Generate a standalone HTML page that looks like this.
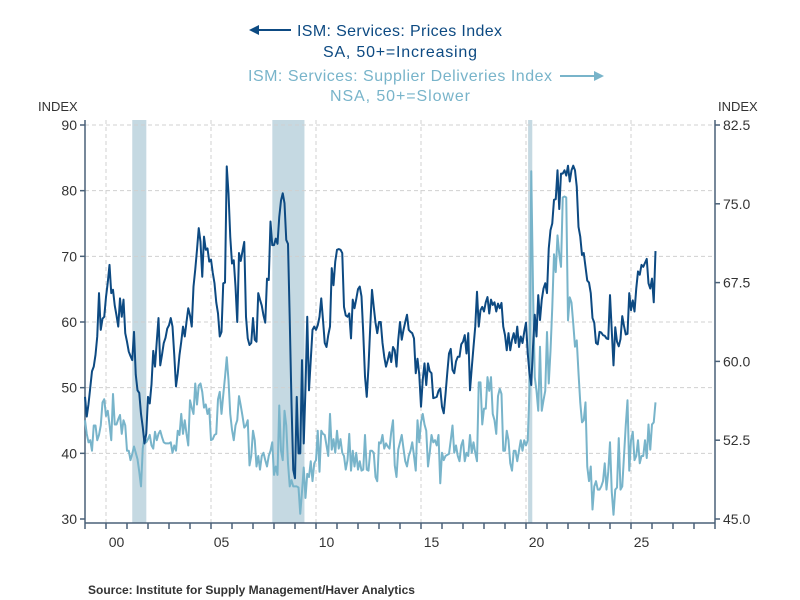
<!DOCTYPE html>
<html><head><meta charset="utf-8"><style>
html,body{margin:0;padding:0;background:#fff;}
svg{display:block;font-family:"Liberation Sans",sans-serif;}
</style></head><body>
<svg id="chart" width="800" height="600" viewBox="0 0 800 600">
<g id="titles">
  <g>
    <line x1="256" y1="30" x2="291" y2="30" stroke="#0d4a82" stroke-width="2"/>
    <polygon points="249,30 259,25 259,35" fill="#0d4a82"/>
    <text x="297" y="36" font-size="16" fill="#0d4a82" textLength="205">ISM: Services: Prices Index</text>
    <text x="400" y="57" font-size="16" fill="#0d4a82" text-anchor="middle" textLength="154">SA, 50+=Increasing</text>
  </g>
  <g>
    <text x="248" y="81" font-size="16" fill="#78b4ca" textLength="304">ISM: Services: Supplier Deliveries Index</text>
    <text x="400" y="101" font-size="16" fill="#78b4ca" text-anchor="middle" textLength="140">NSA, 50+=Slower</text>
    <line x1="560" y1="76" x2="596" y2="76" stroke="#78b4ca" stroke-width="2"/>
    <polygon points="604,76 594,71 594,81" fill="#78b4ca"/>
  </g>
</g>
<text x="38" y="111" font-size="13" fill="#333">INDEX</text>
<text x="718" y="111" font-size="13" fill="#333">INDEX</text>
<g id="plot"></g>
<text x="88" y="594" font-size="12" font-weight="bold" fill="#333">Source:  Institute for Supply Management/Haver Analytics</text>
</svg>
<script>
const startYear = 1999;
const pricesByYear = [
[48.6,45.6,47.5,50.0,52.5,53.2,55.0,57.8,64.4,58.8,60.5,60.8],
[63.8,66.0,68.7,64.4,64.9,62.5,61.0,59.3,63.6,60.8,63.4,58.3],
[57.0,55.5,54.8,54.2,58.5,52.0,49.6,49.2,46.0,44.0,41.5,43.0],
[48.6,47.6,50.5,55.6,53.2,57.0,60.6,53.4,55.0,56.8,57.6,59.0],
[59.5,60.6,59.3,55.0,50.2,52.2,55.0,57.0,59.3,57.8,60.0,62.1],
[61.0,59.3,65.4,68.0,71.0,74.3,72.2,66.9,73.0,71.0,71.2,69.2],
[69.5,67.5,65.9,63.0,61.3,57.8,58.5,65.9,66.0,83.7,79.6,73.0],
[68.9,69.4,65.4,60.0,70.5,69.3,70.8,72.2,60.8,57.5,56.5,56.8],
[60.6,57.3,57.0,64.4,63.4,62.5,61.0,59.9,66.6,66.4,75.3,71.7],
[71.7,72.7,71.9,76.0,78.5,79.6,78.1,72.5,71.9,60.3,47.6,37.5],
[36.2,48.6,40.0,40.0,54.2,41.5,50.0,60.8,49.6,54.2,58.8,59.3],
[58.8,59.5,60.8,63.6,60.3,56.8,56.2,58.0,59.3,68.2,65.6,69.2],
[71.0,71.1,71.0,70.5,62.3,61.0,60.8,61.3,57.5,63.4,62.1,63.5],
[65.0,65.4,63.9,58.3,51.7,48.6,53.2,59.3,64.9,62.3,59.9,58.3],
[60.0,60.0,56.8,54.7,53.2,54.2,55.4,53.9,56.2,55.7,53.2,57.3],
[60.0,57.3,58.8,60.0,61.1,58.8,58.5,58.3,57.5,52.2,54.4,52.0],
[47.1,51.2,53.7,50.4,53.7,52.5,52.2,48.4,48.5,48.6,49.5,49.9],
[47.1,46.1,49.0,52.2,55.2,55.9,52.7,52.2,54.0,54.7,54.7,56.6],
[57.0,58.0,55.2,58.3,49.6,53.0,56.2,59.3,64.6,59.3,61.8,62.3],
[61.6,63.0,63.8,61.3,63.4,62.6,63.0,61.6,62.8,62.1,62.9,59.3],
[58.0,55.7,58.3,55.7,57.3,58.3,56.8,59.3,56.2,57.8,56.8,58.5],
[59.9,55.2,52.2,50.4,56.2,61.1,57.8,64.1,60.3,63.4,65.1,65.9],
[64.4,71.2,74.0,75.0,78.6,78.7,83.1,77.2,82.6,82.6,83.1,82.3],
[83.8,81.4,83.1,83.8,83.1,80.6,74.5,73.0,70.2,70.5,68.4,66.3],
[66.0,64.4,60.6,59.9,56.8,56.6,58.5,58.4,58.0,57.9,57.5,57.4],
[64.1,58.7,53.4,59.2,57.0,56.3,57.4,60.9,59.4,58.1,58.2,64.4],
[61.8,63.3,61.6,65.1,67.7,67.2,68.7,68.4,69.0,69.6,65.9,65.1],
[66.6,63.0,70.8]
];
const deliveriesByYear = [
[54.4,53.1,52.3,52.5,51.5,53.9,53.9,52.5,53.0,53.9,56.1,56.4],
[54.8,55.3,54.0,52.5,56.9,54.0,54.0,54.5,54.9,53.1,54.4,53.9],
[51.5,51.5,50.6,51.2,51.9,51.3,50.7,49.5,48.1,51.7,52.8,52.3],
[52.6,53.0,52.0,51.7,53.3,52.5,53.1,53.4,52.8,52.3,52.2,52.2],
[52.2,52.3,51.3,52.0,51.5,53.4,53.0,55.0,53.1,54.4,53.1,52.0],
[56.3,55.6,55.0,57.9,55.9,57.7,57.9,57.1,55.6,55.9,55.0,55.5],
[52.5,52.6,53.0,53.1,56.4,57.1,55.0,56.8,58.5,60.4,58.2,55.0],
[53.5,52.5,53.9,54.4,56.7,55.8,54.8,53.7,53.9,54.4,50.1,51.0],
[53.4,52.5,50.0,51.0,49.7,51.0,51.3,50.6,50.0,51.0,51.5,52.3],
[49.2,50.0,49.2,55.8,51.5,50.6,55.3,53.9,50.3,48.1,48.7,48.1],
[48.1,48.1,48.0,45.5,47.6,49.9,47.0,49.3,49.0,50.5,48.6,50.3],
[50.6,53.4,49.5,53.4,53.1,53.0,52.0,51.0,55.0,51.6,52.6,51.3],
[53.4,51.7,52.6,51.3,51.0,49.7,50.6,53.1,49.6,51.5,50.0,51.3],
[49.7,50.5,49.6,49.7,53.0,49.7,49.6,51.5,51.5,51.3,49.0,48.6],
[52.3,52.2,53.0,51.7,52.2,51.9,51.7,53.3,54.4,50.1,49.0,51.6],
[52.3,53.0,51.7,50.5,50.0,51.0,51.5,52.3,51.0,49.6,54.4,52.3],
[54.2,55.0,54.0,53.4,50.0,51.3,53.0,52.3,52.5,52.0,53.0,48.4],
[51.3,50.6,51.0,51.1,51.2,52.5,53.9,51.3,52.0,51.0,50.5,52.0],
[52.5,50.5,51.3,51.0,53.0,51.3,52.3,51.3,50.5,58.0,58.0,54.0],
[55.5,55.5,58.5,57.2,58.5,55.0,54.4,53.1,56.7,57.4,56.9,51.5],
[51.5,53.4,52.5,50.3,49.6,51.5,51.5,50.5,51.5,52.5,51.5,52.5],
[52.0,52.5,57.2,78.1,67.0,58.5,57.2,55.3,61.4,55.3,56.3,57.2],
[62.8,57.9,61.0,65.1,70.2,68.5,72.0,70.2,69.0,75.6,75.7,75.6],
[63.9,66.1,65.6,63.6,61.4,62.0,58.9,56.1,54.2,54.4,56.1,50.0],
[48.6,50.0,45.9,48.1,48.6,47.8,47.8,48.1,48.6,50.3,47.8,49.5],
[52.3,47.6,45.4,47.8,48.0,52.7,47.8,48.1,51.0,53.9,56.3,49.6],
[52.5,53.3,50.6,51.0,52.5,50.3,51.0,51.0,52.5,50.8,54.0,51.6],
[54.0,54.2,56.1]
];
const recessionStarts = [2001.25, 2007.92, 2020.1];
const recessionEnds = [2001.92, 2009.45, 2020.3];
const leftTicks = [30,40,50,60,70,80,90];
const rightTicks = [45.0,52.5,60.0,67.5,75.0,82.5];
const yearLabels = ["00","05","10","15","20","25"];
const yearLabelValues = [2000,2005,2010,2015,2020,2025];

const X0=85, X1=715, T0=1999, T1=2029, YT=125, YB=519, YAX=523;
function xs(t){return X0+(t-T0)*(X1-X0)/(T1-T0);}
function yl(v){return YB-(v-30)*(YB-YT)/60;}
function yr(v){return YB-(v-45)*(YB-YT)/37.5;}
const NS="http://www.w3.org/2000/svg";
const plot=document.getElementById('plot');
function mk(tag,attrs,parent){const e=document.createElementNS(NS,tag);for(const k in attrs)e.setAttribute(k,attrs[k]);(parent||plot).appendChild(e);return e;}

for(let i=0;i<recessionStarts.length;i++){
  const r=mk('rect',{x:xs(recessionStarts[i]),y:YT-5,width:xs(recessionEnds[i])-xs(recessionStarts[i]),height:YAX-YT+5,fill:'#c5d9e2'});
  
  
}
leftTicks.forEach(v=>{
  if(v>30){const g=mk('line',{x1:X0,x2:X1,y1:yl(v),y2:yl(v),stroke:'#d0d0d0','stroke-width':1,'stroke-dasharray':'4,3'});
  
  }
});
yearLabelValues.forEach(y=>{
  const g=mk('line',{x1:xs(y),x2:xs(y),y1:YT-5,y2:YAX,stroke:'#d0d0d0','stroke-width':1,'stroke-dasharray':'4,3'});
  
  
});
const axc='#4a6178';
let a=mk('line',{x1:X0,x2:X0,y1:YT-5,y2:YAX,stroke:axc,'stroke-width':1.5});


a=mk('line',{x1:X1,x2:X1,y1:YT-5,y2:YAX,stroke:axc,'stroke-width':1.5});


a=mk('line',{x1:X0,x2:X1,y1:YAX,y2:YAX,stroke:axc,'stroke-width':1.5});


leftTicks.forEach(v=>{
  const t=mk('line',{x1:X0-5,x2:X0,y1:yl(v),y2:yl(v),stroke:axc,'stroke-width':1.5});
  
  
  const l=mk('text',{x:X0-8,y:yl(v)+5,'font-size':14,fill:'#333','text-anchor':'end'});
  l.textContent=String(v);
  
  
});
rightTicks.forEach(v=>{
  const t=mk('line',{x1:X1,x2:X1+5,y1:yr(v),y2:yr(v),stroke:axc,'stroke-width':1.5});
  
  
  const l=mk('text',{x:X1+8,y:yr(v)+5,'font-size':14,fill:'#333'});
  l.textContent=v.toFixed(1);
  
  
});
for(let y=T0;y<=T1;y++){
  const t=mk('line',{x1:xs(y),x2:xs(y),y1:YAX,y2:YAX+6,stroke:axc,'stroke-width':1.5});
  
  
}
yearLabels.forEach((s,i)=>{
  const l=mk('text',{x:xs(yearLabelValues[i]+0.5),y:YAX+24,'font-size':14,fill:'#333','text-anchor':'middle'});
  l.textContent=s;
  
  
});
function series(byYear,yfn,color,name){
  const pts=[];let i=0;
  byYear.forEach(arr=>arr.forEach(v=>{pts.push(xs(startYear+i/12).toFixed(2)+','+yfn(v).toFixed(2));i++;}));
  const p=mk('polyline',{points:pts.join(' '),fill:'none',stroke:color,'stroke-width':2,'stroke-linejoin':'round'});
  
  
}
series(deliveriesByYear,yr,'#78b4ca','supplier-deliveries-line');
series(pricesByYear,yl,'#0d4a82','prices-line');
</script>
</body></html>
